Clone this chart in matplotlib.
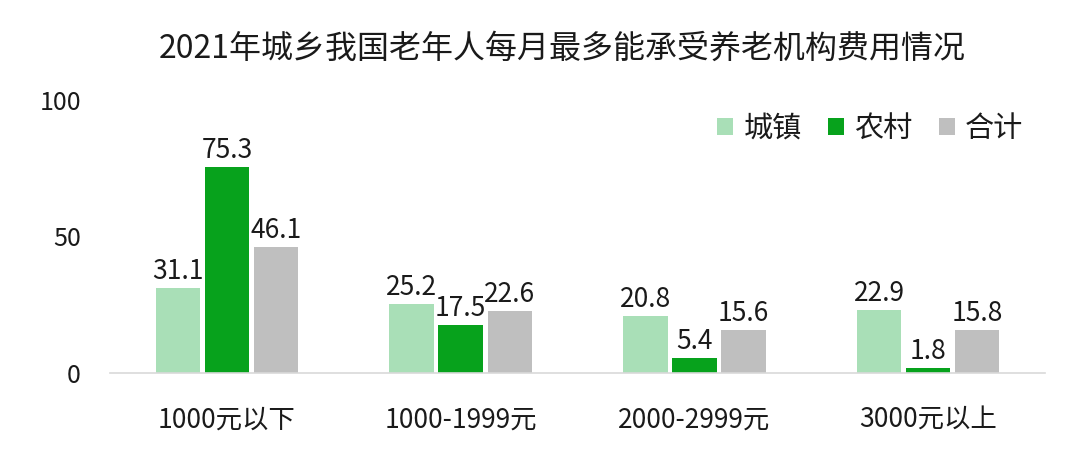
import matplotlib
matplotlib.use("Agg")
import matplotlib.pyplot as plt
import numpy as np

plt.rcParams['font.family'] = ['Noto Sans CJK SC', 'DejaVu Sans']

categories = ["1000元以下", "1000-1999元", "2000-2999元", "3000元以上"]
series_names = ["城镇", "农村", "合计"]
urban = [31.1, 25.2, 20.8, 22.9]
rural = [75.3, 17.5, 5.4, 1.8]
total = [46.1, 22.6, 15.6, 15.8]
yticks = [0, 50, 100]
title = "2021年城乡我国老年人每月最多能承受养老机构费用情况"

colors = ["#A9DFB7", "#07A21C", "#BFBFBF"]
tc = '#1a1a1a'

fig = plt.figure(figsize=(10.8, 4.58), dpi=100)
ax = fig.add_axes([0.1019, 0.1856, 0.8657, 0.5961])

x = np.arange(len(categories))
w = 0.19
step = 0.21
for i, (vals, c, name) in enumerate(zip([urban, rural, total], colors, series_names)):
    pos = x + (i - 1) * step
    ax.bar(pos, vals, width=w, color=c, label=name, zorder=2)
    for p, v in zip(pos, vals):
        ax.text(p, v + 1.2, f"{v}", ha='center', va='bottom', fontsize=19,
                color=tc)

ax.set_xlim(-0.5, len(categories) - 0.5)
ax.set_ylim(0, 100)
ax.set_yticks(yticks)
ax.set_yticklabels([str(t) for t in yticks], fontsize=18, color=tc)
ax.set_xticks(x)
ax.set_xticklabels(categories, fontsize=19, color=tc)
ax.tick_params(axis='both', length=0)
ax.tick_params(axis='y', pad=21)
ax.tick_params(axis='x', pad=24)
for s in ['top', 'right', 'left']:
    ax.spines[s].set_visible(False)
ax.spines['bottom'].set_color('#D9D9D9')
ax.spines['bottom'].set_linewidth(1.2)

leg = ax.legend(loc='upper right', bbox_to_anchor=(1.005, 1.045), ncol=3, frameon=False,
                prop={'size': 21}, handlelength=0.55, handleheight=0.55,
                handletextpad=0.35, columnspacing=0.9)
for t in leg.get_texts():
    t.set_color(tc)

fig.text(0.521, 0.893, title, ha='center', va='center', fontsize=23, color=tc)

fig.savefig("out.png", dpi=100, facecolor='white')
